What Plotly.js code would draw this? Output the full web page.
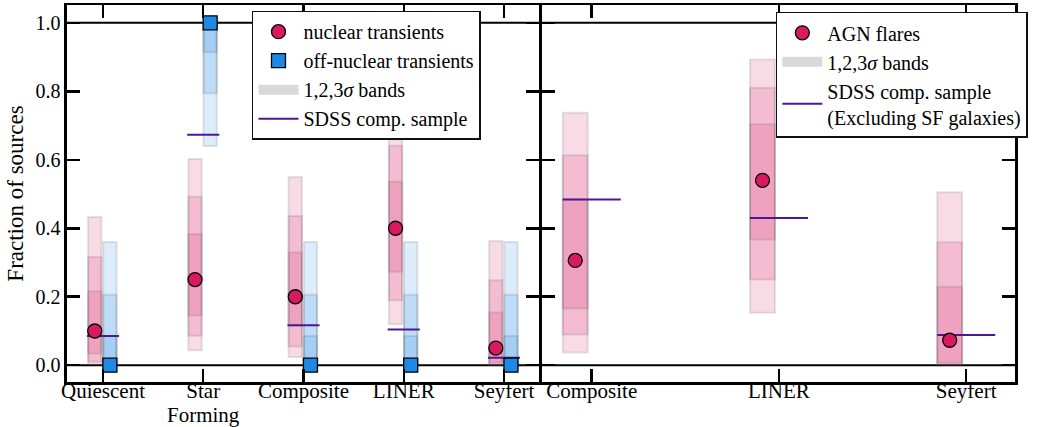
<!DOCTYPE html>
<html>
<head>
<meta charset="utf-8">
<script src="https://cdn.plot.ly/plotly-3.0.1.min.js"></script>
<style>
html,body{margin:0;padding:0;background:#fff;}
#chart{width:1040px;height:427px;}
</style>
</head>
<body>
<div id="chart"></div>
<script>
// ---------- data: left panel (transients) ----------
const leftCats = ['Quiescent', 'Star<br>Forming', 'Composite', 'LINER', 'Seyfert'];
const nucVal = [0.10, 0.25, 0.20, 0.40, 0.05];
const nuc1Lo = [0.034, 0.145, 0.115, 0.273, 0.008];
const nuc1Hi = [0.216, 0.383, 0.329, 0.536, 0.154];
const nuc2Lo = [0.010, 0.086, 0.055, 0.190, 0.002];
const nuc2Hi = [0.316, 0.492, 0.436, 0.641, 0.248];
const nuc3Lo = [0.002, 0.044, 0.024, 0.120, 0.000];
const nuc3Hi = [0.433, 0.602, 0.550, 0.750, 0.363];

const offVal = [0.0, 1.0, 0.0, 0.0, 0.0];
const off1Lo = [0.0, 0.915, 0.0, 0.0, 0.0];
const off1Hi = [0.085, 1.0, 0.085, 0.085, 0.085];
const off2Lo = [0.0, 0.794, 0.0, 0.0, 0.0];
const off2Hi = [0.206, 1.0, 0.206, 0.206, 0.206];
const off3Lo = [0.0, 0.640, 0.0, 0.0, 0.0];
const off3Hi = [0.360, 1.0, 0.360, 0.360, 0.360];

const sdssLeft = [0.085, 0.673, 0.117, 0.104, 0.022];

// ---------- data: right panel (AGN flares) ----------
const rightCats = ['Composite', 'LINER', 'Seyfert'];
const agnVal = [0.306, 0.540, 0.073];
const agn1Lo = [0.166, 0.367, 0.008];
const agn1Hi = [0.484, 0.704, 0.229];
const agn2Lo = [0.090, 0.250, 0.003];
const agn2Hi = [0.613, 0.810, 0.359];
const agn3Lo = [0.037, 0.153, 0.000];
const agn3Hi = [0.737, 0.893, 0.505];
const sdssRight = [0.484, 0.430, 0.088];

const yTicks = [0.0, 0.2, 0.4, 0.6, 0.8, 1.0];
const yTickText = ['0.0', '0.2', '0.4', '0.6', '0.8', '1.0'];

// ---------- styles ----------
const PINK = '#d81b60', BLUE = '#1e88e5', PURPLE = '#4f1694';
const PINK_A = 'rgba(216,27,96,0.155)', BLUE_A = 'rgba(30,136,229,0.155)';
const EDGE = 'rgba(90,90,90,0.16)';
const FONT = 'Liberation Serif, Times New Roman, serif';

function idx(n){ return Array.from({length:n}, (_, i) => i); }
function shift(n, d){ return idx(n).map(i => i + d); }

function band(xs, lo, hi, color, xa, ya){
  return {type:'bar', x:xs, base:lo, y:hi.map((h,i)=>h-lo[i]), width:0.133,
    marker:{color:color, line:{color:EDGE, width:2}}, showlegend:false,
    hoverinfo:'skip', xaxis:xa, yaxis:ya};
}
function segs(n, vals, half){
  const xs = [], ys = [];
  for (let i = 0; i < n; i++){ xs.push(i-half, i+half, null); ys.push(vals[i], vals[i], null); }
  return {xs, ys};
}

const nL = leftCats.length, nR = rightCats.length;
const xNuc = shift(nL, -0.082), xOff = shift(nL, 0.069), xAgn = shift(nR, -0.088);

const traces = [];
[[nuc3Lo,nuc3Hi],[nuc2Lo,nuc2Hi],[nuc1Lo,nuc1Hi]].forEach(b=>traces.push(band(xNuc,b[0],b[1],PINK_A,'x','y')));
[[off3Lo,off3Hi],[off2Lo,off2Hi],[off1Lo,off1Hi]].forEach(b=>traces.push(band(xOff,b[0],b[1],BLUE_A,'x','y')));
[[agn3Lo,agn3Hi],[agn2Lo,agn2Hi],[agn1Lo,agn1Hi]].forEach(b=>traces.push(band(xAgn,b[0],b[1],PINK_A,'x2','y2')));

const sL = segs(nL, sdssLeft, 0.16), sR = segs(nR, sdssRight, 0.155);
traces.push({type:'scatter', mode:'lines', x:sL.xs, y:sL.ys, line:{color:PURPLE, width:2},
  name:'SDSS comp. sample', legend:'legend', legendrank:4, xaxis:'x', yaxis:'y', hoverinfo:'skip'});
traces.push({type:'scatter', mode:'lines', x:sR.xs, y:sR.ys, line:{color:PURPLE, width:2},
  name:'SDSS comp. sample<br>(Excluding SF galaxies)', legend:'legend2', legendrank:3, xaxis:'x2', yaxis:'y2', hoverinfo:'skip'});

traces.push({type:'scatter', mode:'lines', x:[null], y:[null], line:{color:'#d9d9d9', width:13},
  name:'1,2,3<i>σ</i> bands', legend:'legend', legendrank:3, xaxis:'x', yaxis:'y'});
traces.push({type:'scatter', mode:'lines', x:[null], y:[null], line:{color:'#d9d9d9', width:13},
  name:'1,2,3<i>σ</i> bands', legend:'legend2', legendrank:2, xaxis:'x2', yaxis:'y2'});

traces.push({type:'scatter', mode:'markers', x:xNuc, y:nucVal, name:'nuclear transients',
  marker:{symbol:'circle', size:14, color:PINK, line:{color:'#000', width:1.3}},
  legend:'legend', legendrank:1, xaxis:'x', yaxis:'y', cliponaxis:false});
traces.push({type:'scatter', mode:'markers', x:xOff, y:offVal, name:'off-nuclear transients',
  marker:{symbol:'square', size:14, color:BLUE, line:{color:'#000', width:1.3}},
  legend:'legend', legendrank:2, xaxis:'x', yaxis:'y', cliponaxis:false});
traces.push({type:'scatter', mode:'markers', x:xAgn, y:agnVal, name:'AGN flares',
  marker:{symbol:'circle', size:14, color:PINK, line:{color:'#000', width:1.3}},
  legend:'legend2', legendrank:1, xaxis:'x2', yaxis:'y2', cliponaxis:false});

// tick text: first line on the axis, any second line as a tighter-spaced annotation
const leftTickText = leftCats.map(c => c.split('<br>')[0]);
const annotations = [];
leftCats.forEach((c, i) => {
  const parts = c.split('<br>');
  if (parts.length > 1) {
    annotations.push({xref:'x', yref:'paper', x:i, y:-0.087, yanchor:'middle', xanchor:'center',
      showarrow:false, borderpad:0, text:parts.slice(1).join('<br>'), font:{family:FONT, size:21, color:'#000'}});
  }
});

const axCommon = {showline:true, linewidth:2.5, linecolor:'#000', mirror:'ticks', ticks:'inside',
  ticklen:13, tickwidth:2.5, tickcolor:'#000', showgrid:false, zeroline:false,
  tickfont:{family:FONT, size:20, color:'#000'}, automargin:false};

const layout = {
  width:1040, height:427, margin:{l:0, r:0, t:5, b:45},
  paper_bgcolor:'#fff', plot_bgcolor:'#fff', barmode:'overlay', showlegend:true,
  font:{family:FONT, color:'#000'},
  xaxis: Object.assign({}, axCommon, {domain:[0.0644, 0.5183], range:[-0.359, 4.349],
    tickvals:idx(nL), ticktext:leftTickText, anchor:'y', ticklabelstandoff:-12,
    tickfont:{family:FONT, size:21, color:'#000'}}),
  yaxis: Object.assign({}, axCommon, {domain:[0,1], range:[-0.049, 1.052], anchor:'x',
    tickvals:yTicks, ticktext:yTickText,
    title:{text:'Fraction of sources', font:{family:FONT, size:23, color:'#000'}, standoff:6}}),
  xaxis2: Object.assign({}, axCommon, {domain:[0.5209, 0.976], range:[-0.267, 2.261],
    tickvals:idx(nR), ticktext:rightCats, anchor:'y2', ticklabelstandoff:-12,
    tickfont:{family:FONT, size:21, color:'#000'}}),
  yaxis2: Object.assign({}, axCommon, {domain:[0,1], range:[-0.049, 1.052], anchor:'x2',
    tickvals:yTicks, showticklabels:false}),
  annotations: annotations,
  shapes: [
    {type:'line', xref:'x domain', yref:'y', x0:0, x1:1, y0:0, y1:0, line:{color:'#000', width:2}, layer:'below'},
    {type:'line', xref:'x domain', yref:'y', x0:0, x1:1, y0:1, y1:1, line:{color:'#000', width:2}, layer:'below'},
    {type:'line', xref:'x2 domain', yref:'y2', x0:0, x1:1, y0:0, y1:0, line:{color:'#000', width:2}, layer:'below'},
    {type:'line', xref:'x2 domain', yref:'y2', x0:0, x1:1, y0:1, y1:1, line:{color:'#000', width:2}, layer:'below'}
  ],
  legend: {x:0.2423, y:0.985, xanchor:'left', yanchor:'top', bgcolor:'#fff', bordercolor:'#111',
    borderwidth:1.5, font:{family:FONT, size:20, color:'#000'}, itemwidth:40, traceorder:'normal'},
  legend2: {x:0.746, y:0.982, xanchor:'left', yanchor:'top', bgcolor:'#fff', bordercolor:'#111',
    borderwidth:1.5, font:{family:FONT, size:20, color:'#000'}, itemwidth:40, traceorder:'normal'}
};

Plotly.newPlot('chart', traces, layout, {displayModeBar:false, staticPlot:true});
</script>
</body>
</html>
